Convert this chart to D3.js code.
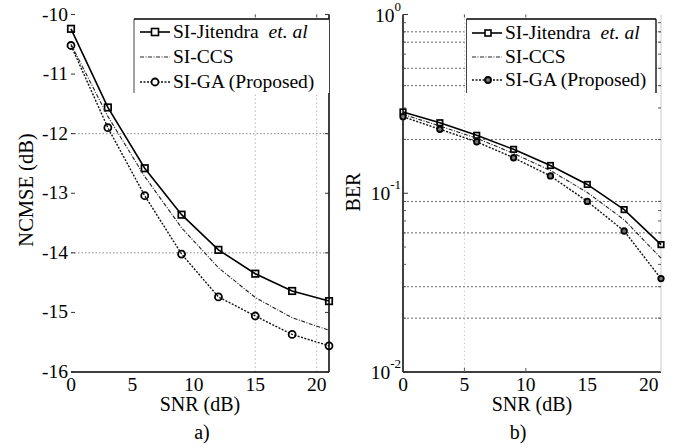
<!DOCTYPE html>
<html><head><meta charset="utf-8">
<script src="https://cdn.jsdelivr.net/npm/d3@7"></script>
<style>body{margin:0;background:#fff;} svg{display:block;} text{font-family:"Liberation Serif","Times New Roman",serif;fill:#000;}</style>
</head><body>
<svg id="c" width="687" height="448"></svg>
<script>
const snr = [0, 3, 6, 9, 12, 15, 18, 21];
const ncmseJitendra = [-10.24, -11.56, -12.58, -13.36, -13.95, -14.35, -14.64, -14.81];
const ncmseCCS      = [-10.50, -11.71, -12.72, -13.58, -14.25, -14.75, -15.09, -15.30];
const ncmseGA       = [-10.52, -11.90, -13.04, -14.02, -14.74, -15.06, -15.37, -15.56];
const berJitendra = [0.285, 0.248, 0.211, 0.176, 0.143, 0.112, 0.081, 0.0516];
const berCCS      = [0.276, 0.238, 0.203, 0.167, 0.134, 0.101, 0.071, 0.0434];
const berGA       = [0.268, 0.228, 0.194, 0.158, 0.125, 0.090, 0.0615, 0.0333];
const xTicks = [0, 5, 10, 15, 20];
const ncmseTicks = [-10, -11, -12, -13, -14, -15, -16];
const ncmseGrid = [-12, -14];
const ncmseVGrid = [15, 20];
const berMajor = [1, 0.1, 0.01];
const berGrid = [0.8, 0.7, 0.5, 0.4, 0.2, 0.09, 0.06, 0.03, 0.02];
const berVGrid = [5];
const seriesNames = ["SI-Jitendra", "SI-CCS", "SI-GA (Proposed)"];

const svg = d3.select("#c");
const FS = 19.5;

// ---------- Left panel ----------
const xL = d3.scaleLinear().domain([0, 21]).range([71, 329]);
const yL = d3.scaleLinear().domain([-16, -10]).range([372, 14.5]);
const gL = svg.append("g");

gL.selectAll(".hg").data(ncmseGrid).join("line")
  .attr("x1", xL(0)).attr("x2", xL(21)).attr("y1", d => yL(d)).attr("y2", d => yL(d))
  .attr("stroke", "#888").attr("stroke-width", 1).attr("stroke-dasharray", "1.5,2");
gL.selectAll(".vg").data(ncmseVGrid).join("line")
  .attr("x1", d => xL(d)).attr("x2", d => xL(d)).attr("y1", yL(-10)).attr("y2", yL(-16))
  .attr("stroke", "#bbb").attr("stroke-width", 1).attr("stroke-dasharray", "1.5,2.5");

gL.append("line").attr("x1", xL(0)).attr("x2", xL(21)).attr("y1", yL(-16)).attr("y2", yL(-16)).attr("stroke", "#000").attr("stroke-width", 1.5);
gL.append("line").attr("x1", xL(21)).attr("x2", xL(21)).attr("y1", yL(-10)).attr("y2", yL(-16)).attr("stroke", "#000").attr("stroke-width", 1.5);
gL.selectAll(".tl").data(ncmseTicks).join("line")
  .attr("x1", xL(0)).attr("x2", xL(0) + 4).attr("y1", d => yL(d)).attr("y2", d => yL(d)).attr("stroke", "#333");
gL.selectAll(".tr").data(ncmseTicks).join("line")
  .attr("x1", xL(21) - 4).attr("x2", xL(21)).attr("y1", d => yL(d)).attr("y2", d => yL(d)).attr("stroke", "#333");
gL.selectAll(".tt").data(ncmseVGrid).join("line")
  .attr("x1", d => xL(d)).attr("x2", d => xL(d)).attr("y1", yL(-10)).attr("y2", yL(-10) + 3).attr("stroke", "#555");
gL.selectAll(".yl").data(ncmseTicks).join("text")
  .attr("x", 68).attr("y", d => yL(d) + 6).attr("text-anchor", "end").attr("font-size", FS)
  .text(d => d);
gL.selectAll(".xl").data(xTicks).join("text")
  .attr("x", d => xL(d)).attr("y", 391).attr("text-anchor", "middle").attr("font-size", FS)
  .text(d => d);
gL.append("text").attr("x", 200).attr("y", 411).attr("text-anchor", "middle").attr("font-size", 20).text("SNR (dB)");
gL.append("text").attr("x", 202).attr("y", 439).attr("text-anchor", "middle").attr("font-size", 20).text("a)");
gL.append("text").attr("transform", "translate(33,190) rotate(-90)").attr("text-anchor", "middle").attr("font-size", 20.5).text("NCMSE (dB)");

const styles = [
  {dash: null, w: 1.6, c: "#000", marker: "square"},
  {dash: "4,1.5,1,1.5", w: 1.1, c: "#222", marker: null},
  {dash: "2,1.5", w: 1.4, c: "#111", marker: "circle"}
];

function drawSeries(g, xs, ys, vals, st, msize, fill) {
  const line = d3.line().x((d, i) => xs(snr[i])).y(d => ys(d));
  g.append("path").datum(vals).attr("d", line).attr("fill", "none")
    .attr("stroke", st.c).attr("stroke-width", st.w).attr("stroke-dasharray", st.dash);
  if (st.marker === "square") {
    g.selectAll(null).data(vals).join("rect")
      .attr("x", (d, i) => xs(snr[i]) - msize / 2).attr("y", d => ys(d) - msize / 2)
      .attr("width", msize).attr("height", msize).attr("fill", fill).attr("stroke", "#000").attr("stroke-width", 1.7);
  } else if (st.marker === "circle") {
    g.selectAll(null).data(vals).join("circle")
      .attr("cx", (d, i) => xs(snr[i])).attr("cy", d => ys(d)).attr("r", msize / 2)
      .attr("fill", fill).attr("stroke", "#000").attr("stroke-width", 1.8);
  }
}
[ncmseJitendra, ncmseCCS, ncmseGA].forEach((v, k) => drawSeries(gL, xL, yL, v, styles[k], k === 0 ? 6.5 : 7, "none"));

function drawLegend(g, x0, y0, x1, rows, sx, mx, tx, msize, fill) {
  g.append("rect").attr("x", x0).attr("y", y0).attr("width", x1 - x0).attr("height", 74).attr("fill", "#fff");
  g.append("line").attr("x1", x0).attr("x2", x0).attr("y1", y0).attr("y2", y0 + 74).attr("stroke", "#444");
  g.append("line").attr("x1", x0).attr("x2", x1).attr("y1", y0).attr("y2", y0).attr("stroke", "#000").attr("stroke-width", 1.3);
  seriesNames.forEach((name, k) => {
    const st = styles[k], y = rows[k];
    g.append("line").attr("x1", sx[0]).attr("x2", sx[1]).attr("y1", y).attr("y2", y)
      .attr("stroke", st.c).attr("stroke-width", st.w).attr("stroke-dasharray", st.dash);
    if (st.marker === "square") g.append("rect").attr("x", mx - msize / 2).attr("y", y - msize / 2).attr("width", msize).attr("height", msize).attr("fill", "#fff").attr("stroke", "#000").attr("stroke-width", 1.6);
    if (st.marker === "circle") g.append("circle").attr("cx", mx).attr("cy", y).attr("r", msize / 2).attr("fill", fill).attr("stroke", "#000").attr("stroke-width", 1.8);
    const t = g.append("text").attr("x", tx).attr("y", y + 6).attr("font-size", FS);
    t.append("tspan").text(name);
    if (k === 0) t.append("tspan").attr("dx", 10).attr("font-style", "italic").text("et. al");
  });
}
drawLegend(gL, 134, 19, 329, [32, 57, 82], [140, 170], 155, 173, 7, "#fff");

// ---------- Right panel ----------
const xR = d3.scaleLinear().domain([0, 21]).range([403, 661]);
const yR = d3.scaleLog().domain([0.01, 1]).range([372, 14.5]);
const gR = svg.append("g");
const minors = [];
[0.01, 0.1].forEach(b => { for (let m = 2; m <= 9; m++) minors.push(+(b * m).toFixed(4)); });

gR.selectAll(".hg").data(berGrid).join("line")
  .attr("x1", xR(0)).attr("x2", xR(21)).attr("y1", d => yR(d)).attr("y2", d => yR(d))
  .attr("stroke", "#666").attr("stroke-width", 1).attr("stroke-dasharray", "2,2");
gR.selectAll(".vg").data(berVGrid).join("line")
  .attr("x1", d => xR(d)).attr("x2", d => xR(d)).attr("y1", yR(1)).attr("y2", yR(0.01))
  .attr("stroke", "#ccc").attr("stroke-width", 1).attr("stroke-dasharray", "1.5,2.5");
gR.append("line").attr("x1", xR(0)).attr("x2", xR(21)).attr("y1", yR(0.01)).attr("y2", yR(0.01)).attr("stroke", "#000").attr("stroke-width", 1.5);
gR.append("line").attr("x1", xR(0)).attr("x2", xR(0)).attr("y1", yR(1)).attr("y2", yR(0.01)).attr("stroke", "#000").attr("stroke-width", 1.5);
gR.append("line").attr("x1", xR(21)).attr("x2", xR(21)).attr("y1", yR(1)).attr("y2", yR(0.01)).attr("stroke", "#ccc").attr("stroke-width", 1);
gR.selectAll(".ml").data(minors).join("line")
  .attr("x1", xR(0)).attr("x2", xR(0) + 3).attr("y1", d => yR(d)).attr("y2", d => yR(d)).attr("stroke", "#555");
gR.selectAll(".mr").data(minors).join("line")
  .attr("x1", xR(21) - 3).attr("x2", xR(21)).attr("y1", d => yR(d)).attr("y2", d => yR(d)).attr("stroke", "#555");
gR.selectAll(".Ml").data(berMajor).join("line")
  .attr("x1", xR(0)).attr("x2", xR(0) + 5).attr("y1", d => yR(d)).attr("y2", d => yR(d)).attr("stroke", "#333");
gR.selectAll(".bt").data([5, 10]).join("line")
  .attr("x1", d => xR(d)).attr("x2", d => xR(d)).attr("y1", yR(0.01)).attr("y2", yR(0.01) - 4).attr("stroke", "#555");
gR.selectAll(".tt").data([5, 10]).join("line")
  .attr("x1", d => xR(d)).attr("x2", d => xR(d)).attr("y1", yR(1)).attr("y2", yR(1) + 3).attr("stroke", "#555");
gR.selectAll(".yl").data(berMajor).join("text")
  .attr("x", 401).attr("y", d => yR(d) + 7).attr("text-anchor", "end").attr("font-size", FS)
  .each(function (d) {
    const e = Math.round(Math.log10(d));
    d3.select(this).append("tspan").text("10");
    d3.select(this).append("tspan").attr("dy", -11).attr("font-size", 13).text(e);
  });
gR.selectAll(".xl").data(xTicks).join("text")
  .attr("x", d => xR(d)).attr("y", 391).attr("text-anchor", "middle").attr("font-size", FS)
  .text(d => d);
gR.append("text").attr("x", 532).attr("y", 411).attr("text-anchor", "middle").attr("font-size", 20).text("SNR (dB)");
gR.append("text").attr("x", 518).attr("y", 439).attr("text-anchor", "middle").attr("font-size", 20).text("b)");
gR.append("text").attr("transform", "translate(360,192) rotate(-90)").attr("text-anchor", "middle").attr("font-size", 20).text("BER");

[berJitendra, berCCS, berGA].forEach((v, k) => drawSeries(gR, xR, yR, v, styles[k], 5.5, k === 2 ? "#777" : "none"));
drawLegend(gR, 466.5, 19, 656, [33, 57, 80], [472, 502], 488, 505, 6, "#777");
gR.append("line").attr("x1", 656).attr("x2", 656).attr("y1", 19).attr("y2", 93).attr("stroke", "#000").attr("stroke-width", 1.3);
</script>
</body></html>
